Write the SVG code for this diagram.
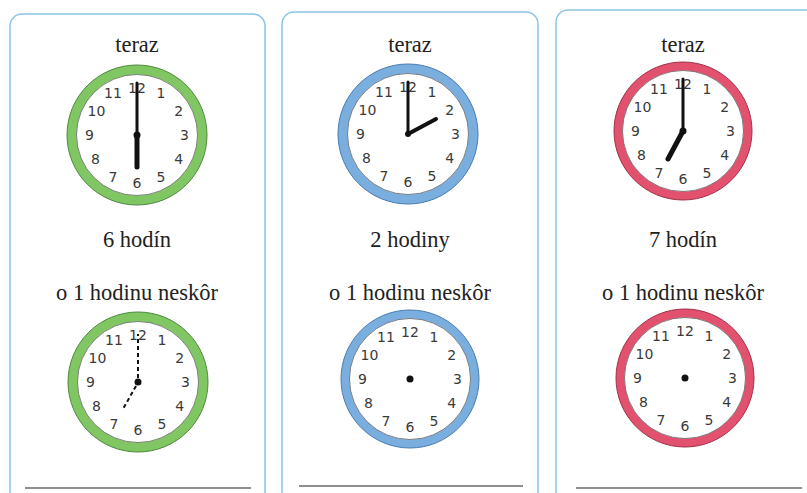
<svg xmlns="http://www.w3.org/2000/svg" xmlns:xlink="http://www.w3.org/1999/xlink" width="807" height="493" viewBox="0 0 807 493">
<style>
.card{fill:#ffffff;stroke:#8cc4e6;stroke-width:1.5}
.base{stroke:#6a6a6a;stroke-width:1.5}
.lbl{font-family:"Liberation Serif","Times New Roman",serif;font-size:22.5px;fill:#222;text-anchor:middle}
.num{font-family:"DejaVu Sans","Liberation Sans",sans-serif;font-size:14px;fill:#3a3a3a;text-anchor:middle;dominant-baseline:central}
.green{fill:#80c662;stroke:#4f8a42;stroke-width:1}
.blue{fill:#7aaedf;stroke:#4a7db0;stroke-width:1}
.red{fill:#e2526e;stroke:#a03048;stroke-width:1}
.white{fill:#ffffff;stroke:#666;stroke-width:0.8}
.hand{stroke:#111;stroke-linecap:round}
.dash{stroke:#111;stroke-width:2;stroke-dasharray:4 3}
</style>
<defs>
<g id="face">
<circle class="white" r="60.5"/>
<text class="num" x="24" y="-41.6">1</text>
<text class="num" x="41.6" y="-24">2</text>
<text class="num" x="47.5" y="0">3</text>
<text class="num" x="41.6" y="24">4</text>
<text class="num" x="24" y="41.6">5</text>
<text class="num" x="0" y="47.5">6</text>
<text class="num" x="-24" y="41.6">7</text>
<text class="num" x="-41.6" y="24">8</text>
<text class="num" x="-47.5" y="0">9</text>
<text class="num" x="-40.5" y="-24">10</text>
<text class="num" x="-24" y="-41.6">11</text>
<text class="num" x="0" y="-47.5">12</text>
</g>
</defs>
<rect width="807" height="493" fill="#ffffff"/>

<g id="card1">
<rect class="card" x="10" y="14" width="255" height="490" rx="12"/>
<line class="base" x1="25" y1="488" x2="251" y2="488"/>
<text class="lbl" x="137" y="52">teraz</text>
<text class="lbl" x="137" y="247">6 hodín</text>
<text class="lbl" x="137" y="300">o 1 hodinu neskôr</text>
<g id="clock1-now" transform="translate(137,135)">
<circle class="green" r="70"/>
<use xlink:href="#face"/>
<line class="hand" x1="0" y1="0" x2="0" y2="-52" stroke-width="3"/>
<line class="hand" x1="0" y1="0" x2="0" y2="32" stroke-width="5"/>
<circle r="3.5" fill="#111"/>
</g>
<g id="clock1-later" transform="translate(138,382)">
<circle class="green" r="70"/>
<use xlink:href="#face"/>
<line class="dash" x1="0" y1="-4" x2="0" y2="-48"/>
<line class="dash" x1="-2" y1="4" x2="-15" y2="27"/>
<circle r="3.5" fill="#111"/>
</g>
</g>

<g id="card2">
<rect class="card" x="282" y="12" width="256" height="492" rx="12"/>
<line class="base" x1="299" y1="486" x2="523" y2="486"/>
<text class="lbl" x="410" y="52">teraz</text>
<text class="lbl" x="410" y="247">2 hodiny</text>
<text class="lbl" x="410" y="300">o 1 hodinu neskôr</text>
<g id="clock2-now" transform="translate(408,134)">
<circle class="blue" r="70"/>
<use xlink:href="#face"/>
<line class="hand" x1="0" y1="0" x2="0" y2="-52" stroke-width="3"/>
<line class="hand" x1="0" y1="0" x2="28" y2="-15" stroke-width="4"/>
<circle r="3" fill="#111"/>
</g>
<g id="clock2-later" transform="translate(410,379)">
<circle class="blue" r="69"/>
<use xlink:href="#face"/>
<circle r="3.5" fill="#111"/>
</g>
</g>

<g id="card3">
<rect class="card" x="556" y="10" width="262" height="494" rx="12"/>
<line class="base" x1="576" y1="488" x2="802" y2="488"/>
<text class="lbl" x="683" y="52">teraz</text>
<text class="lbl" x="683" y="247">7 hodín</text>
<text class="lbl" x="683" y="300">o 1 hodinu neskôr</text>
<g id="clock3-now" transform="translate(683,131)">
<circle class="red" r="69"/>
<use xlink:href="#face"/>
<line class="hand" x1="0" y1="0" x2="0" y2="-52" stroke-width="3"/>
<line class="hand" x1="0" y1="0" x2="-15" y2="28" stroke-width="5"/>
<circle r="3.5" fill="#111"/>
</g>
<g id="clock3-later" transform="translate(685,378)">
<circle class="red" r="69"/>
<use xlink:href="#face"/>
<circle r="3.5" fill="#111"/>
</g>
</g>
</svg>
